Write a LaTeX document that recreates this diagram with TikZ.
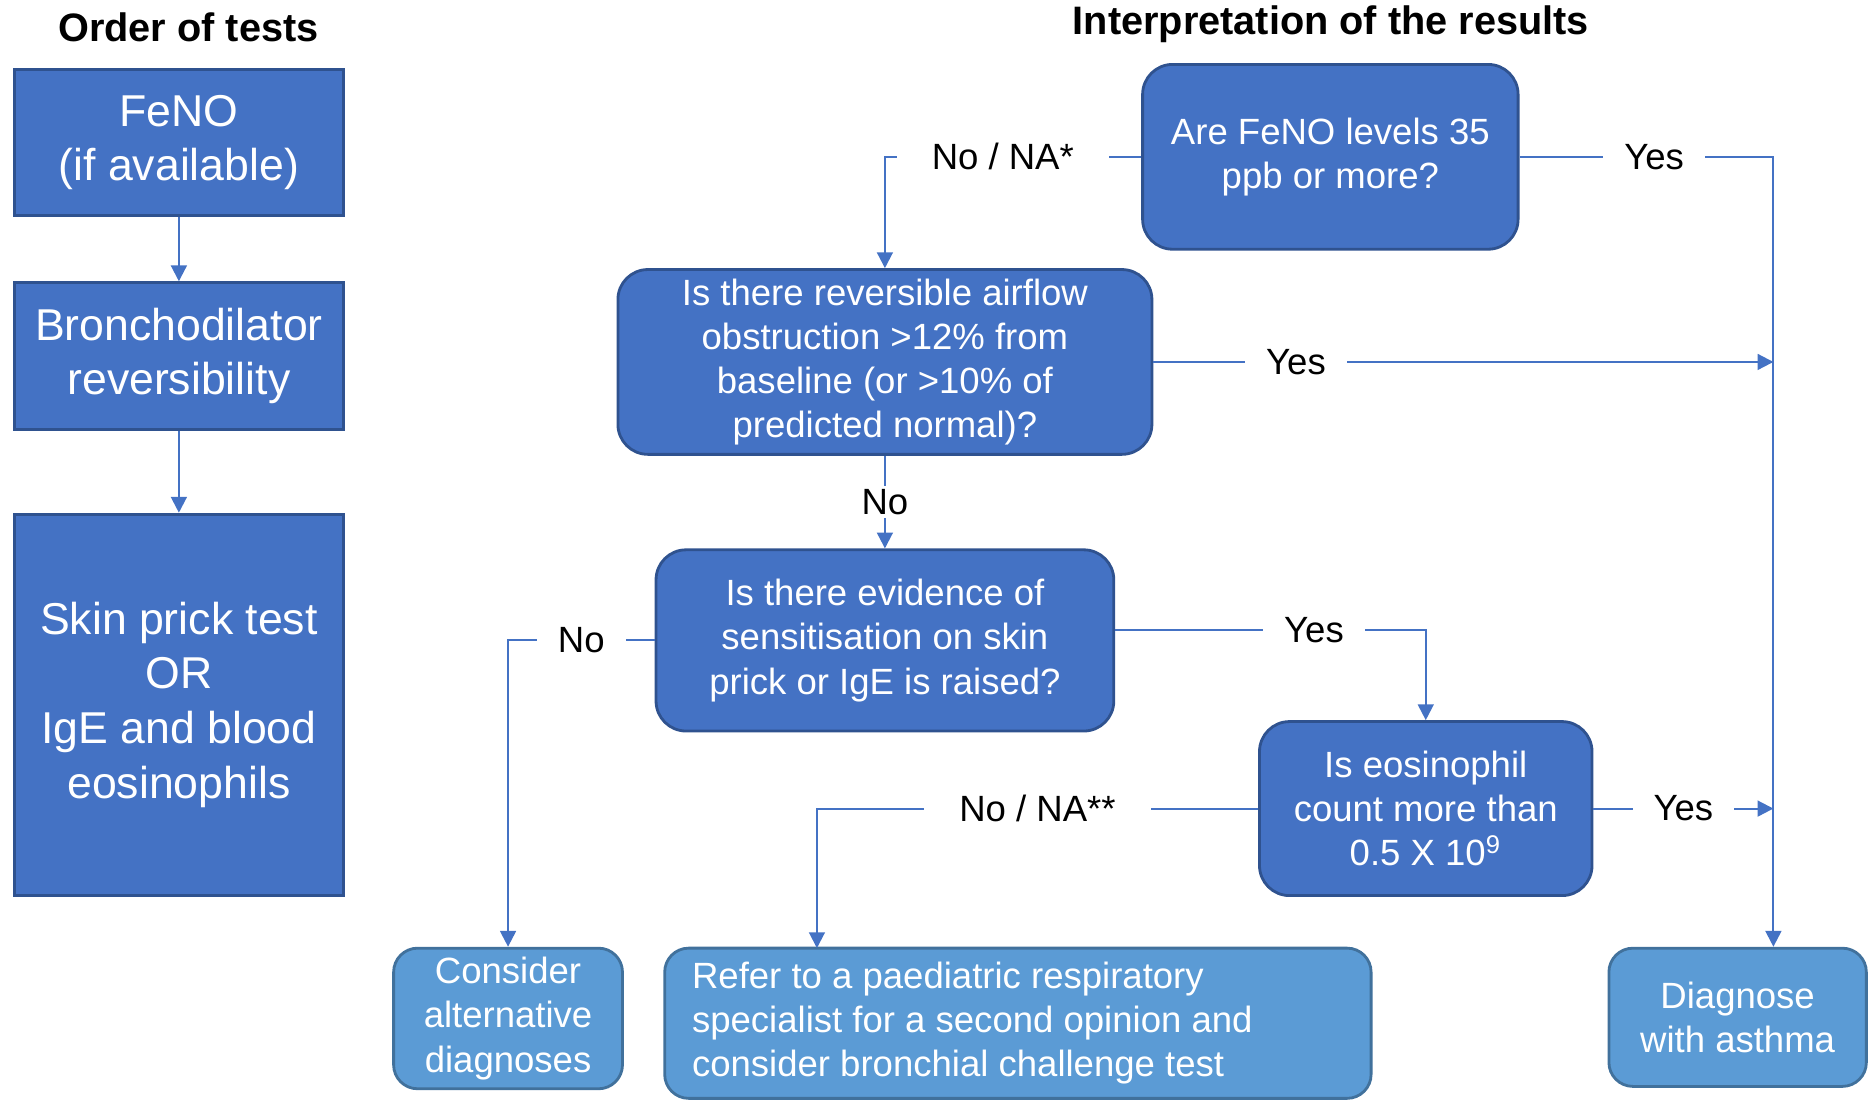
\documentclass[tikz,border=0pt]{standalone}
\usepackage{fontspec}
\setmainfont{Liberation Sans}
\usetikzlibrary{arrows.meta}
\definecolor{boxblue}{HTML}{4472C4}
\definecolor{boxedge}{HTML}{2F528F}
\definecolor{endblue}{HTML}{5B9BD5}
\definecolor{endedge}{HTML}{41719C}

\begin{document}
\begin{tikzpicture}[x=0.011926cm, y=-0.011926cm]

        \tikzstyle{heading} = [font=\bfseries\fontsize{11.3}{13.5}\selectfont];
        \tikzstyle{testbox} = [draw=boxedge, fill=boxblue, line width=0.8pt, text=white, align=center, minimum width=3.292cm, font=\fontsize{12.7}{15.6}\selectfont];
        \tikzstyle{askbox} = [draw=boxedge, fill=boxblue, line width=0.8pt, rounded corners=0.3cm, text=white, align=center, inner ysep=2pt, font=\fontsize{10.4}{12.6}\selectfont];
        \tikzstyle{endbox} = [draw=endedge, fill=endblue, line width=0.8pt, rounded corners=0.24cm, text=white, align=center, inner ysep=2pt, font=\fontsize{10.4}{12.6}\selectfont];
        \tikzstyle{answer} = [fill=white, text=black, inner xsep=6pt, inner ysep=1pt, font=\fontsize{10.4}{12.6}\selectfont];
        \tikzstyle{arrow} = [draw=boxblue, line width=0.6pt, -{Triangle[width=4.5pt,length=4.5pt]}];

        \useasboundingbox (0,0) rectangle (1568,924);

        % Left - Order of tests
        \node[heading] (OT) at (158,23) {Order of tests};

        \node[testbox, minimum height=1.467cm] (FENO) at (150,119.5) {FeNO\\(if available)};
        \node[testbox, minimum height=1.467cm] (BDR) at (150,298.5) {Bronchodilator\\reversibility};
        \node[testbox, minimum height=3.816cm] (SPT) at (150,591) {Skin prick test\\OR\\IgE and blood\\eosinophils};

        \draw [arrow] (FENO) -- (BDR);
        \draw [arrow] (BDR) -- (SPT);
        % Left - Order of tests

        % Right - Interpretation
        \node[heading] (IR) at (1116,20) {Interpretation of the results};

        \node[askbox, minimum width=3.757cm, minimum height=1.849cm] (Q1) at (1115.5,131.5) {Are FeNO levels 35\\ppb or more?};
        \node[askbox, minimum width=5.343cm, minimum height=1.849cm] (Q2) at (742,303.5) {Is there reversible airflow\\obstruction >12\% from\\baseline (or >10\% of\\predicted normal)?};
        \node[askbox, minimum width=4.580cm, minimum height=1.813cm] (Q3) at (742,537) {Is there evidence of\\sensitisation on skin\\prick or IgE is raised?};
        \node[askbox, minimum width=3.327cm, minimum height=1.741cm] (Q4) at (1195.5,678) {Is eosinophil\\count more than\\0.5 X 10\textsuperscript{9}};

        \node[endbox, minimum width=2.290cm, minimum height=1.407cm] (ALT) at (426,854) {Consider\\alternative\\diagnoses};
        \node[endbox, align=flush left, text width=6.52cm, inner xsep=0.274cm, minimum height=1.503cm] (REF) at (853.5,858) {Refer to a paediatric respiratory\\specialist for a second opinion and\\consider bronchial challenge test};
        \node[endbox, minimum width=2.576cm, minimum height=1.383cm] (DIAG) at (1457,853) {Diagnose\\with asthma};

        \coordinate (BUS) at (1487,131.5);
        \coordinate (REFIN) at (685,795);

        \draw [arrow] (Q1) -| node[answer, pos=0.27, inner xsep=10pt] {No / NA*} (Q2);
        \draw [arrow] (Q1) -- node[answer, pos=0.53] {Yes} (BUS) -- (BUS |- DIAG.north);
        \draw [arrow] (Q2) -- node[answer, pos=0.23] {Yes} (BUS |- Q2);
        \draw [arrow] (Q2) -- node[answer] {No} (Q3);
        \draw [arrow] (Q3) -| node[answer, pos=0.25] {No} (ALT);
        \draw [arrow] ([yshift=3pt]Q3.east) -| node[answer, pos=0.32] {Yes} (Q4);
        \draw [arrow] (Q4) -| node[answer, pos=0.25, inner xsep=10pt] {No / NA**} (REFIN);
        \draw [arrow] (Q4) -- node[answer] {Yes} (BUS |- Q4);
        % Right - Interpretation

\end{tikzpicture}
\end{document}
